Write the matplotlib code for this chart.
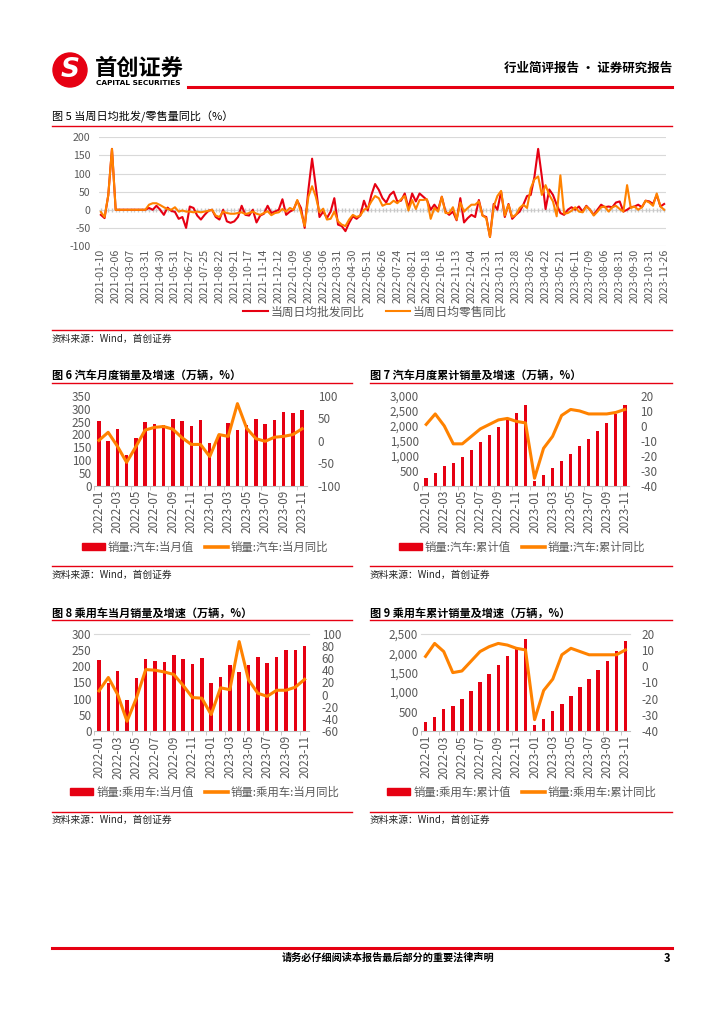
import numpy as np
import matplotlib
matplotlib.use("Agg")
import matplotlib.pyplot as plt  # noqa: E402
from matplotlib.lines import Line2D  # noqa: E402
from matplotlib.patches import Ellipse, Patch  # noqa: E402
from matplotlib.ticker import FuncFormatter  # noqa: E402

plt.rcParams["font.family"] = ["Noto Sans CJK SC", "DejaVu Sans"]
plt.rcParams["axes.unicode_minus"] = False

W, H = 724, 1024
RED = "#E60012"
ORANGE = "#FF8200"
GRAY = "#595959"
GRID = "#D9D9D9"

# ---- figure 5: weekly wholesale / retail yoy (%) ----
WEEK_LABELS = [
    "2021-01-10", "2021-02-06", "2021-03-07", "2021-03-31", "2021-04-30",
    "2021-05-31", "2021-06-27", "2021-07-25", "2021-08-22", "2021-09-21",
    "2021-10-17", "2021-11-14", "2021-12-12", "2022-01-09", "2022-02-06",
    "2022-03-06", "2022-03-31", "2022-04-30", "2022-05-31", "2022-06-26",
    "2022-07-24", "2022-08-21", "2022-09-18", "2022-10-16", "2022-11-13",
    "2022-12-04", "2022-12-31", "2023-01-31", "2023-02-28", "2023-03-26",
    "2023-04-22", "2023-05-21", "2023-06-11", "2023-07-09", "2023-08-06",
    "2023-08-31", "2023-09-30", "2023-10-31", "2023-11-26",
]
wholesale_yoy = [
    -14, -23, 40, 168, 0, 0, 0, 0, 0, 0, 0, 0, 0, 5, 0, 11, 0, -14, 6, -3,
    -6, -25, -20, -50, 9, 5, -16, -27, -14, -3, 0, -20, -27, 0, -32, -36, -32, -20, 11, -14,
    -16, 0, -35, -16, -11, 11, -9, -5, 0, 29, -14, -5, 0, 25, 5, -50, 55, 141, 64, -20,
    -5, -23, -5, 32, -41, -45, -59, -36, -18, -25, -16, 25, -2, 41, 71, 55, 32, 20, 41, 50,
    23, 25, 45, 5, 45, 23, 45, 36, 27, 0, 14, 0, 36, -5, -14, -5, -29, 32, -35, -23,
    -14, -20, 27, -16, -20, -75, 16, 0, 50, -20, 16, -25, -14, -5, 14, 38, 41, 91, 168, 91,
    2, 56, 41, 14, -9, -14, 0, 7, 0, 9, -5, 11, 0, -14, 0, 14, 7, 9, 7, 20,
    23, -5, 0, 7, 9, 14, 7, 25, 23, 16, 41, 9, 16,
]
retail_yoy = [
    -6, -20, 40, 168, 0, 0, 0, 0, 0, 0, 0, 0, 0, 14, 18, 18, 13, 7, 2, 0,
    7, -5, -2, -5, -5, -7, -5, -7, -5, -3, 0, -16, -20, -5, -9, -11, -11, -9, -7, -12,
    -9, -5, -11, -14, -9, -4, -15, -9, -7, 2, -5, 5, 0, 27, -7, -45, 36, 65, 36, -7,
    3, -27, -25, -5, -32, -41, -45, -27, -14, -20, -16, 0, 5, 23, 38, 32, 11, 16, 16, 25,
    18, 29, 38, -2, 27, 2, 27, 27, 29, -25, 5, -5, 36, -9, -9, 7, -27, 20, -5, 5,
    14, 14, 23, -16, -23, -75, 9, 38, 52, -16, 14, -20, -14, 5, 14, 5, 59, 84, 92, 41,
    68, 41, 23, -18, 95, -11, -9, -3, 7, -5, -7, 9, 0, -16, -5, 7, 9, -5, 7, 11,
    2, -5, 68, 5, 9, 0, 7, 25, 20, 11, 45, 9, 0,
]

# ---- figures 6-9: monthly data ----
MONTHS = [f"2022-{m:02d}" for m in range(1, 13)] + [f"2023-{m:02d}" for m in range(1, 12)]
auto_month = [253, 174, 223, 118, 186, 250, 242, 238, 261, 251, 233, 256,
              165, 198, 245, 216, 238, 262, 239, 258, 286, 285, 297]
auto_month_yoy = [1, 19, -12, -48, -13, 24, 30, 32, 26, 7, -8, -8,
                  -35, 14, 10, 83, 28, 5, -1, 8, 10, 14, 27]
auto_cum = [253, 427, 650, 769, 956, 1206, 1448, 1686, 1947, 2198, 2431, 2686,
            165, 362, 607, 823, 1061, 1324, 1562, 1821, 2107, 2392, 2689]
auto_cum_yoy = [1, 8, 0, -12, -12, -7, -2, 1, 4, 5, 3, 2,
                -35, -15, -7, 7, 11, 10, 8, 8, 8, 9, 11]
pv_month = [219, 149, 186, 97, 162, 222, 217, 212, 233, 223, 208, 226,
            147, 166, 202, 181, 204, 227, 210, 227, 249, 249, 261]
pv_month_yoy = [6, 28, 0, -44, -6, 41, 40, 37, 33, 15, -5, -6,
                -33, 11, 8, 87, 24, 2, -3, 7, 7, 12, 25]
pv_cum = [219, 367, 554, 650, 812, 1035, 1252, 1464, 1697, 1920, 2128, 2356,
          147, 312, 514, 695, 899, 1126, 1335, 1563, 1811, 2060, 2321]
pv_cum_yoy = [6, 14, 9, -4, -3, 3, 9, 12, 14, 13, 11, 10,
              -33, -15, -8, 7, 11, 9, 7, 7, 7, 7, 10]

fig = plt.figure(figsize=(W / 100, H / 100), dpi=100)


def fx(x):
    return x / W


def fy(y):
    return 1 - y / H


def add_ax(l, t, r, b):
    return fig.add_axes([l / W, 1 - b / H, (r - l) / W, (b - t) / H])


def hline(x0, x1, y, lw=1.0, color=RED):
    fig.add_artist(Line2D([fx(x0), fx(x1)], [fy(y), fy(y)], transform=fig.transFigure,
                          color=color, lw=lw))


def source(x, y):
    fig.text(fx(x), fy(y), "资料来源：Wind，首创证券", fontsize=7, style="italic",
             va="center", ha="left", color="#222222")


# ---- page header ----
fig.add_artist(Ellipse((fx(70), fy(70)), 34 / W, 34 / H, transform=fig.transFigure,
                       color=RED))
fig.text(fx(70), fy(70), "S", color="white", fontsize=19, fontweight="bold",
         style="italic", ha="center", va="center", family="DejaVu Sans")
fig.text(fx(95), fy(68), "首创证券", fontsize=16, fontweight="bold", va="center")
fig.text(fx(96), fy(83), "CAPITAL SECURITIES", fontsize=5.3, fontweight="bold",
         va="center", family="DejaVu Sans")
fig.text(fx(672), fy(68), "行业简评报告 · 证券研究报告", fontsize=9, fontweight="bold",
         ha="right", va="center")
hline(188, 672, 87, lw=2.2)

# ---- figure 5 ----
fig.text(fx(52), fy(117), "图 5 当周日均批发/零售量同比（%）", fontsize=8, va="center")
hline(52, 672, 126, lw=1.0)
ax5 = add_ax(99, 137.3, 666, 246)
x5 = np.arange(len(wholesale_yoy))
ax5.plot(x5, np.zeros(len(x5)), "|", color="#C8C8C8", ms=3, zorder=1)
l1, = ax5.plot(x5, wholesale_yoy, color=RED, lw=1.5, zorder=3)
l2, = ax5.plot(x5, retail_yoy, color=ORANGE, lw=1.5, zorder=4)
ax5.set_xlim(-0.5, len(x5) - 0.5)
ax5.set_ylim(-100, 200)
ax5.set_yticks(range(-100, 201, 50))
ax5.grid(axis="y", color=GRID, lw=0.8)
ax5.set_axisbelow(True)
ax5.set_xticks(x5[::4])
ax5.set_xticklabels(WEEK_LABELS, rotation=90)
ax5.tick_params(axis="x", length=0, pad=2, labelsize=7.6, labelcolor=GRAY)
ax5.tick_params(axis="y", length=0, pad=6, labelsize=7.6, labelcolor=GRAY)
for s in ax5.spines.values():
    s.set_visible(False)
fig.legend([l1, l2], ["当周日均批发同比", "当周日均零售同比"], loc="center",
           bbox_to_anchor=(fx(375), fy(312)), ncol=2, frameon=False, fontsize=8.5,
           handlelength=2.1, handletextpad=0.2, columnspacing=1.8, labelcolor=GRAY)
hline(52, 672, 330, lw=1.0)
source(52, 339)


def combo(box, bars, line, bar_ticks, line_ticks, labels, leg_x, leg_y,
          comma=False, top_line=False, rpad=8):
    ax = add_ax(*box)
    x = np.arange(len(MONTHS))
    ax.bar(x, bars, width=0.38, color=RED, zorder=2)
    ax.set_xlim(-0.5, len(x) - 0.5)
    ax.set_ylim(bar_ticks[0], bar_ticks[-1])
    ax.set_yticks(bar_ticks)
    if comma:
        ax.yaxis.set_major_formatter(FuncFormatter(lambda v, p: f"{v:,.0f}"))
    ax.set_xticks(x[::2])
    ax.set_xticklabels(MONTHS[::2], rotation=90)
    ax.set_xticks(x[::2] - 0.5, minor=True)
    ax.tick_params(axis="x", which="major", length=0, pad=3, labelsize=8.4, labelcolor=GRAY)
    ax.tick_params(axis="x", which="minor", length=3, color="#BFBFBF")
    ax.tick_params(axis="y", length=0, pad=2, labelsize=8.4, labelcolor=GRAY)
    for k in ("left", "right", "top"):
        ax.spines[k].set_visible(False)
    ax.spines["bottom"].set_color("#BFBFBF")
    if top_line:
        ax.spines["top"].set_visible(True)
        ax.spines["top"].set_color(GRID)
    ax2 = ax.twinx()
    ax2.plot(x, line, color=ORANGE, lw=2.2, zorder=3)
    ax2.set_ylim(line_ticks[0], line_ticks[-1])
    ax2.set_yticks(line_ticks)
    ax2.tick_params(axis="y", length=0, pad=rpad, labelsize=8.4, labelcolor=GRAY)
    for s in ax2.spines.values():
        s.set_visible(False)
    handles = [Patch(color=RED), Line2D([], [], color=ORANGE, lw=2.6)]
    fig.legend(handles, labels, loc="center", bbox_to_anchor=(fx(leg_x), fy(leg_y)),
               ncol=2, frameon=False, fontsize=8.2, handlelength=2.0, handleheight=0.55,
               handletextpad=0.25, columnspacing=1.0, labelcolor=GRAY)


# ---- figures 6 / 7 ----
fig.text(fx(52), fy(375), "图 6 汽车月度销量及增速（万辆，%）", fontsize=8,
         fontweight="bold", va="center")
fig.text(fx(370), fy(375), "图 7 汽车月度累计销量及增速（万辆，%）", fontsize=8,
         fontweight="bold", va="center")
hline(52, 352, 383)
hline(370, 672, 383)
combo((94.3, 396, 306.7, 485.7), auto_month, auto_month_yoy,
      list(range(0, 351, 50)), list(range(-100, 101, 50)),
      ["销量:汽车:当月值", "销量:汽车:当月同比"], 205, 547)
combo((421.7, 396, 629.3, 485.7), auto_cum, auto_cum_yoy,
      list(range(0, 3001, 500)), list(range(-40, 21, 10)),
      ["销量:汽车:累计值", "销量:汽车:累计同比"], 522, 547, comma=True)
hline(52, 352, 566)
hline(370, 672, 566)
source(52, 575)
source(370, 575)

# ---- figures 8 / 9 ----
fig.text(fx(52), fy(613), "图 8 乘用车当月销量及增速（万辆，%）", fontsize=8,
         fontweight="bold", va="center")
fig.text(fx(370), fy(613), "图 9 乘用车累计销量及增速（万辆，%）", fontsize=8,
         fontweight="bold", va="center")
hline(52, 352, 620)
hline(370, 672, 620)
combo((94.3, 633.7, 309.3, 731), pv_month, pv_month_yoy,
      list(range(0, 301, 50)), list(range(-60, 101, 20)),
      ["销量:乘用车:当月值", "销量:乘用车:当月同比"], 205, 792, top_line=True, rpad=9)
combo((421, 633.7, 630, 731), pv_cum, pv_cum_yoy,
      list(range(0, 2501, 500)), list(range(-40, 21, 10)),
      ["销量:乘用车:累计值", "销量:乘用车:累计同比"], 522, 792, comma=True,
      top_line=True)
hline(52, 352, 812)
hline(370, 672, 812)
source(52, 820)
source(370, 820)

# ---- footer ----
hline(52, 672, 948, lw=2.2)
fig.text(fx(388), fy(958), "请务必仔细阅读本报告最后部分的重要法律声明", fontsize=7.3,
         fontweight="bold", ha="center", va="center")
fig.text(fx(670), fy(958), "3", fontsize=8, fontweight="bold", ha="right", va="center")

fig.savefig("out.png", dpi=100)
